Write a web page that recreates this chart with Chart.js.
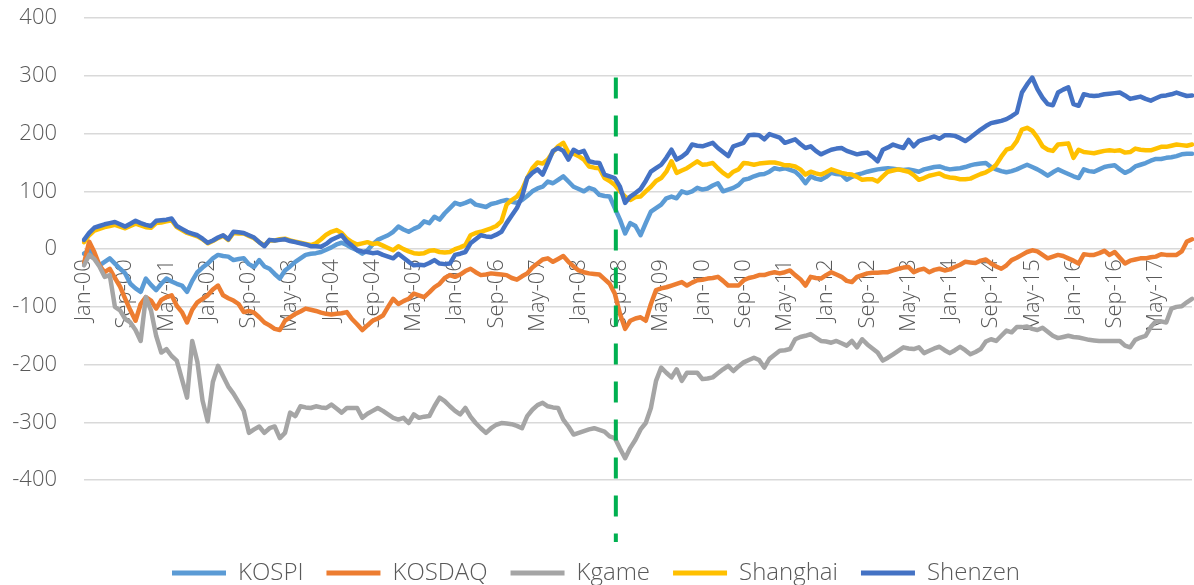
<!DOCTYPE html>
<html>
<head>
<meta charset="utf-8">
<title>Index comparison</title>
<script src="https://cdn.jsdelivr.net/npm/chart.js@4.4.1/dist/chart.umd.min.js"></script>
<style>
  html, body { margin: 0; padding: 0; background: #ffffff; }
  #wrap { width: 1194px; height: 585px; position: relative; }
</style>
</head>
<body>
<div id="wrap"><canvas id="indexChart"></canvas></div>
<script>
// categories: one point per month, Jan-00 .. Dec-17
const monthNames = ['Jan', 'Feb', 'Mar', 'Apr', 'May', 'Jun', 'Jul', 'Aug', 'Sep', 'Oct', 'Nov', 'Dec']
const years = ['00', '01', '02', '03', '04', '05', '06', '07', '08', '09', '10', '11', '12', '13', '14', '15', '16', '17']
const labelEvery = 8

// y axis ticks
const yTicks = [400, 300, 200, 100, 0, -100, -200, -300, -400]

// series (one row per year)
const kospi = [
  -8, -2, -15, -28, -22, -16, -25, -34, -42, -60, -68, -74,
  -51, -62, -71, -60, -51, -56, -60, -63, -74, -55, -40, -32,
  -25, -16, -10, -12, -13, -19, -17, -16, -26, -31, -19, -30,
  -34, -43, -51, -37, -30, -22, -16, -10, -8, -7, -5, -1,
  3, 8, 11, 7, 2, -2, -8, -2, 8, 16, 20, 24,
  30, 39, 34, 30, 35, 39, 48, 45, 56, 51, 62, 71,
  80, 77, 80, 84, 77, 75, 73, 78, 80, 83, 85, 82,
  80, 85, 92, 100, 105, 108, 117, 114, 120, 126, 117, 108,
  104, 100, 106, 103, 94, 92, 91, 71, 51, 27, 45, 40,
  24, 45, 65, 71, 77, 88, 91, 88, 100, 97, 100, 106,
  103, 105, 110, 114, 100, 103, 106, 111, 120, 122, 126, 129,
  130, 134, 140, 138, 140, 137, 134, 126, 114, 126, 122, 120,
  125, 132, 130, 129, 120, 125, 129, 131, 134, 136, 138, 139,
  140, 139, 138, 137, 138, 136, 134, 138, 140, 142, 143, 140,
  138, 139, 140, 142, 145, 147, 148, 149, 142, 138, 135, 133,
  135, 138, 142, 146, 142, 138, 133, 127, 133, 138, 134, 130,
  126, 123, 138, 135, 134, 138, 142, 144, 145, 138, 132, 136,
  143, 146, 149, 153, 156, 156, 158, 159, 161, 164, 165, 165
]

const kosdaq = [
  -25, 13, -5, -28, -40, -34, -50, -65, -86, -106, -124, -95,
  -83, -89, -103, -88, -83, -80, -98, -109, -127, -105, -92, -86,
  -80, -70, -63, -80, -85, -89, -95, -109, -107, -110, -118, -127,
  -132, -138, -140, -124, -118, -112, -108, -103, -105, -107, -110, -112,
  -113, -112, -111, -109, -121, -130, -140, -132, -124, -120, -115, -100,
  -86, -95, -90, -86, -77, -80, -83, -75, -66, -60, -50, -45,
  -48, -44, -38, -34, -40, -45, -44, -42, -43, -44, -45, -50,
  -53, -47, -42, -32, -25, -18, -16, -22, -17, -12, -22, -30,
  -37, -40, -42, -43, -44, -52, -60, -77, -112, -138, -124, -120,
  -118, -124, -95, -71, -68, -66, -63, -60, -57, -63, -58, -54,
  -53, -51, -50, -48, -55, -63, -63, -63, -54, -50, -48, -45,
  -45, -42, -40, -42, -40, -37, -45, -52, -63, -48, -50, -51,
  -45, -40, -44, -48, -55, -57, -48, -45, -42, -41, -41, -40,
  -40, -37, -34, -32, -31, -40, -36, -34, -40, -36, -34, -37,
  -35, -31, -27, -22, -23, -24, -20, -18, -25, -30, -34, -28,
  -19, -15, -10, -5, -2, -4, -10, -16, -13, -10, -12, -16,
  -20, -25, -9, -10, -10, -7, -3, -10, -5, -15, -25, -20,
  -18, -16, -16, -14, -13, -9, -10, -10, -10, -4, 13, 17
]

const kgame = [
  -28, -10, -17, -30, -48, -45, -100, -106, -121, -127, -140, -159,
  -83, -106, -150, -179, -173, -185, -193, -225, -257, -159, -195, -262,
  -298, -230, -202, -220, -238, -250, -265, -280, -318, -312, -307, -318,
  -310, -307, -327, -318, -283, -289, -272, -274, -275, -272, -274, -275,
  -269, -276, -283, -275, -275, -275, -292, -285, -280, -275, -280, -286,
  -292, -295, -292, -301, -286, -292, -290, -289, -272, -257, -263, -272,
  -280, -286, -275, -290, -301, -310, -318, -310, -304, -301, -302, -303,
  -306, -310, -289, -278, -270, -266, -272, -274, -275, -295, -307, -321,
  -318, -315, -312, -310, -313, -316, -324, -327, -345, -362, -344, -330,
  -312, -301, -275, -228, -205, -214, -222, -208, -228, -214, -214, -214,
  -225, -224, -222, -215, -208, -202, -211, -203, -196, -192, -188, -192,
  -205, -190, -183, -176, -175, -173, -156, -152, -150, -147, -153, -159,
  -160, -162, -159, -163, -167, -159, -170, -156, -165, -172, -179, -193,
  -188, -182, -176, -170, -172, -173, -170, -180, -176, -172, -169, -175,
  -180, -175, -169, -175, -182, -178, -173, -160, -156, -159, -150, -141,
  -144, -135, -135, -134, -138, -140, -136, -143, -150, -154, -152, -150,
  -152, -153, -155, -157, -158, -159, -159, -159, -159, -159, -167, -170,
  -157, -153, -150, -135, -125, -125, -127, -103, -100, -99, -92, -86
]

const shanghai = [
  12, 24, 32, 35, 38, 40, 42, 39, 36, 40, 44, 41,
  38, 37, 45, 46, 48, 50, 38, 33, 28, 25, 22, 17,
  10, 14, 19, 23, 16, 28, 27, 27, 23, 19, 12, 6,
  15, 15, 17, 18, 15, 13, 11, 9, 7, 10, 17, 25,
  30, 33, 28, 18, 12, 8, 10, 12, 9, 10, 6, 2,
  -2, 5, 0, -4, -7, -8, -7, -3, -2, -5, -6, -5,
  0, 3, 7, 24, 28, 30, 33, 36, 40, 48, 77, 85,
  91, 103, 123, 140, 150, 148, 155, 168, 178, 184, 167, 165,
  161, 155, 143, 141, 140, 123, 118, 111, 100, 91, 85, 90,
  91, 100, 108, 118, 123, 134, 152, 132, 136, 140, 146, 152,
  146, 147, 149, 140, 132, 126, 134, 138, 149, 148, 146, 148,
  149, 150, 150, 148, 145, 145, 143, 138, 129, 134, 131, 129,
  133, 138, 135, 132, 130, 129, 125, 120, 121, 121, 117, 126,
  134, 136, 138, 136, 134, 128, 120, 123, 127, 129, 131, 126,
  124, 123, 121, 121, 122, 126, 130, 133, 138, 146, 160, 172,
  175, 187, 207, 210, 205, 193, 178, 172, 170, 181, 182, 183,
  158, 172, 168, 167, 166, 168, 170, 171, 170, 171, 167, 168,
  174, 172, 171, 171, 174, 177, 177, 179, 181, 180, 179, 181
]

const shenzen = [
  16, 28, 37, 40, 43, 45, 47, 43, 39, 44, 49, 45,
  42, 40, 49, 50, 51, 53, 40, 35, 30, 27, 24, 18,
  11, 15, 20, 24, 17, 30, 29, 28, 24, 20, 12, 5,
  16, 15, 16, 17, 14, 12, 10, 8, 5, 5, 4, 9,
  16, 20, 24, 13, 6, -2, -4, -5, -7, -6, -10, -13,
  -16, -8, -15, -22, -28, -27, -28, -24, -19, -25, -26, -25,
  -10, -8, -5, 10, 17, 24, 22, 21, 25, 30, 45, 58,
  71, 91, 123, 132, 138, 129, 149, 170, 175, 170, 155, 172,
  167, 170, 152, 150, 149, 129, 126, 123, 108, 80, 91, 97,
  104, 118, 134, 140, 146, 158, 172, 155, 160, 167, 181, 179,
  178, 181, 184, 175, 168, 161, 178, 181, 184, 197, 198, 197,
  190, 199, 196, 193, 184, 187, 190, 182, 175, 178, 170, 164,
  168, 172, 174, 175, 170, 167, 164, 166, 167, 160, 152, 172,
  176, 181, 178, 175, 189, 178, 187, 190, 192, 195, 191, 197,
  197, 196, 192, 187, 193, 200, 207, 213, 218, 220, 222, 225,
  230, 236, 271, 285, 297, 277, 262, 251, 249, 271, 276, 280,
  251, 248, 268, 266, 265, 266, 268, 269, 270, 271, 266, 260,
  262, 264, 260, 257, 261, 265, 266, 268, 271, 268, 265, 266
]

// the vertical dashed marker (Sep-08), in month index and value units
const markerMonth = 103.2
const markerFrom = 297
const markerTo = -507

const labels = []
years.forEach(y => monthNames.forEach(m => labels.push(m + '-' + y)))

const textColor = '#595959'
const gridColor = '#D9D9D9'
const baseFont = { family: "'Open Sans', 'Liberation Sans', sans-serif", size: 22, weight: '300' }
const legendFont = { family: "'Open Sans', 'Liberation Sans', sans-serif", size: 24, weight: '300' }

const series = [
  { label: 'KOSPI', data: kospi, color: '#5B9BD5' },
  { label: 'KOSDAQ', data: kosdaq, color: '#ED7D31' },
  { label: 'Kgame', data: kgame, color: '#A5A5A5' },
  { label: 'Shanghai', data: shanghai, color: '#FFC000' },
  { label: 'Shenzen', data: shenzen, color: '#4472C4' }
]

const markerPlugin = {
  id: 'marker',
  afterDatasetsDraw(chart) {
    const { ctx, scales } = chart
    const x = scales.x.getPixelForValue(markerMonth)
    ctx.save()
    ctx.strokeStyle = '#00B050'
    ctx.lineWidth = 4
    ctx.setLineDash([21, 17])
    ctx.beginPath()
    ctx.moveTo(x, scales.y.getPixelForValue(markerFrom))
    ctx.lineTo(x, scales.y.getPixelForValue(markerTo))
    ctx.stroke()
    ctx.restore()
  }
}

// fixed legend height so it sits at the bottom edge
const legendHeightPlugin = {
  id: 'legendHeight',
  beforeLayout(chart) {
    const lg = chart.legend
    if (lg && !lg._fixedFit) {
      const fit = lg.fit
      lg.fit = function () {
        fit.call(this)
        this.height = 47
      }
      lg._fixedFit = true
    }
  }
}

const ctx = document.getElementById('indexChart').getContext('2d')

new Chart(ctx, {
  type: 'line',
  data: {
    labels: labels,
    datasets: series.map((s, i) => ({
      label: s.label,
      data: s.data,
      borderColor: s.color,
      backgroundColor: s.color,
      borderWidth: 4.5,
      borderJoinStyle: 'round',
      borderCapStyle: 'round',
      pointRadius: 0,
      tension: 0,
      fill: false,
      order: series.length - i
    }))
  },
  options: {
    responsive: true,
    maintainAspectRatio: false,
    animation: false,
    layout: { padding: { top: 18, right: 2, left: 0, bottom: 0 } },
    scales: {
      x: {
        position: { y: 0 },
        grid: { display: false, drawTicks: false },
        border: { display: false },
        ticks: {
          autoSkip: false,
          minRotation: 90,
          maxRotation: 90,
          padding: 10,
          color: textColor,
          font: baseFont,
          callback: (v, i) => (i % labelEvery === 0 ? labels[i] : null)
        }
      },
      y: {
        min: -500,
        max: 400,
        afterFit: scale => {
          scale.width = 84
          scale.paddingTop = 0
          scale.paddingBottom = 0
        },
        afterBuildTicks: scale => {
          scale.ticks = [-500].concat(yTicks.slice().reverse()).map(v => ({ value: v }))
        },
        grid: {
          drawTicks: false,
          color: c => (yTicks.includes(c.tick.value) ? gridColor : 'rgba(0,0,0,0)'),
          lineWidth: 1.5
        },
        border: { display: false },
        ticks: {
          padding: 27,
          color: textColor,
          font: baseFont,
          callback: v => (yTicks.includes(v) ? String(v) : '')
        }
      }
    },
    plugins: {
      tooltip: { enabled: false },
      legend: {
        position: 'bottom',
        labels: {
          boxWidth: 54,
          boxHeight: 5,
          padding: 23,
          color: textColor,
          font: legendFont,
          sort: (a, b) => a.datasetIndex - b.datasetIndex,
          generateLabels: chart =>
            Chart.defaults.plugins.legend.labels.generateLabels(chart).map(l => ({ ...l, lineWidth: 0 }))
        }
      }
    }
  },
  plugins: [markerPlugin, legendHeightPlugin]
})
</script>
</body>
</html>
